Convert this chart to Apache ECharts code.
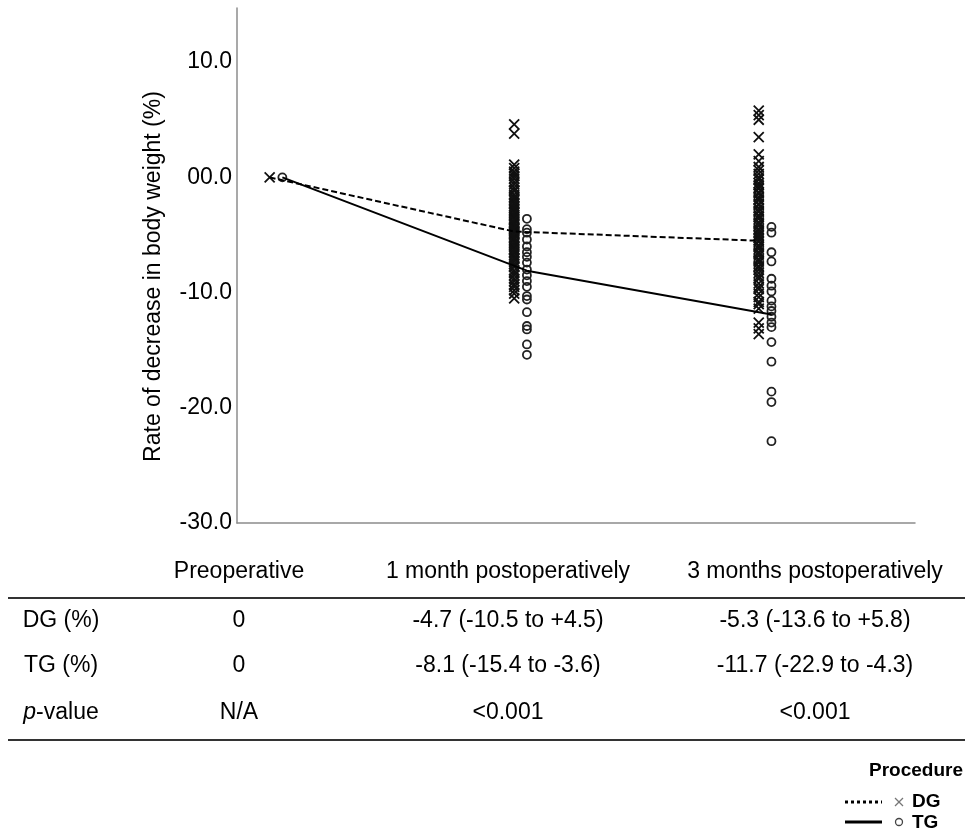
<!DOCTYPE html>
<html>
<head>
<meta charset="utf-8">
<script src="https://cdn.jsdelivr.net/npm/echarts@6/dist/echarts.min.js"></script>
<style>
  html, body { margin: 0; padding: 0; background: #fff; }
  #main { width: 965px; height: 833px; }
</style>
</head>
<body>
<div id="main"></div>
<script>
// time points (x positions 0, 1, 2)
const timePoints = ['Preoperative', '1 month postoperatively', '3 months postoperatively'];

// group medians drawn as lines
const dgLine = [0, -4.7, -5.5];
const tgLine = [0, -8.1, -11.9];

// individual patients, % change in body weight
const dgPre = [0];
const dg1m = [4.6, 3.8, 1.1, 0.8, 0.5, 0.3, 0.1, -0.1, -0.4, -0.6, -0.9, -1.1, -1.2, -1.5, -1.7, -1.8, -2.0,
  -2.2, -2.3, -2.5, -2.7, -2.8, -3.0, -3.1, -3.3, -3.4, -3.6, -3.7, -3.9, -4.0, -4.1, -4.3, -4.4, -4.5,
  -4.6, -4.7, -4.8, -4.9, -5.0, -5.2, -5.3, -5.4, -5.6, -5.7, -5.9, -6.0, -6.2, -6.3, -6.5, -6.6, -6.8,
  -7.0, -7.1, -7.3, -7.5, -7.7, -7.8, -8.1, -8.3, -8.5, -8.8, -9.0, -9.3, -9.5, -9.8, -10.1, -10.5];
const dg3m = [5.8, 5.4, 5.0, 3.5, 2.0, 1.4, 0.9, 0.6, 0.3, 0.0, -0.2, -0.5, -0.7, -0.9, -1.0, -1.3, -1.4,
  -1.7, -1.9, -2.0, -2.3, -2.4, -2.7, -2.9, -3.0, -3.3, -3.4, -3.6, -3.9, -4.0, -4.2, -4.5, -4.6, -4.8,
  -5.0, -5.1, -5.3, -5.5, -5.6, -5.9, -6.0, -6.2, -6.5, -6.6, -6.8, -7.1, -7.2, -7.4, -7.7, -7.8, -8.0,
  -8.3, -8.6, -8.8, -9.2, -9.5, -9.7, -10.1, -10.4, -10.8, -11.0, -11.4, -12.6, -13.1, -13.6];
const tgPre = [0];
const tg1m = [-3.6, -4.5, -4.8, -5.4, -6.0, -6.5, -6.9, -7.4, -8.0, -8.5, -9.0, -9.5, -10.3, -10.6,
  -11.7, -12.9, -13.2, -14.5, -15.4];
const tg3m = [-4.3, -4.8, -6.5, -7.3, -8.8, -9.4, -9.9, -10.7, -11.2, -11.6, -12.1, -12.6, -13.0,
  -14.3, -16.0, -18.6, -19.5, -22.9];

// summary table under the chart
const tableHeader = ['Preoperative', '1 month postoperatively', '3 months postoperatively'];
const tableRowNames = ['DG (%)', 'TG (%)', '{i|p}-value'];
const tableRows = [
  ['0', '-4.7 (-10.5 to +4.5)', '-5.3 (-13.6 to +5.8)'],
  ['0', '-8.1 (-15.4 to -3.6)', '-11.7 (-22.9 to -4.3)'],
  ['N/A', '<0.001', '<0.001']
];

const FONT = '"Liberation Sans", Arial, sans-serif';
const shift = 0.026;
const crossPath = 'path://M0,0L10,10M10,0L0,10';

const toPts = (lists, off) => {
  let out = [];
  lists.forEach((list, i) => list.forEach(v => out.push([i + off, v])));
  return out;
};

const chart = echarts.init(document.getElementById('main'));

const colX = [239, 508, 815];
const rowY = [621, 666, 713];
let graphics = [];
tableHeader.forEach((t, i) => {
  graphics.push({type: 'text', x: colX[i], y: 572,
    style: {text: t, font: '23px ' + FONT, fill: '#000', textAlign: 'center', textVerticalAlign: 'middle'}});
});
tableRows.forEach((row, r) => {
  graphics.push({type: 'text', x: 61, y: rowY[r],
    style: {text: tableRowNames[r], font: '23px ' + FONT, fill: '#000', textAlign: 'center', textVerticalAlign: 'middle',
      rich: {i: {fontStyle: 'italic', fontSize: 23, fontFamily: FONT}}}});
  row.forEach((t, i) => {
    graphics.push({type: 'text', x: colX[i], y: rowY[r],
      style: {text: t, font: '23px ' + FONT, fill: '#000', textAlign: 'center', textVerticalAlign: 'middle'}});
  });
});
graphics.push({type: 'line', shape: {x1: 8, y1: 598, x2: 965, y2: 598}, style: {stroke: '#333', lineWidth: 2}});
graphics.push({type: 'line', shape: {x1: 8, y1: 740, x2: 965, y2: 740}, style: {stroke: '#333', lineWidth: 2}});

// legend block
graphics.push({type: 'text', x: 963, y: 771,
  style: {text: 'Procedure', font: 'bold 19px ' + FONT, fill: '#000', textAlign: 'right', textVerticalAlign: 'middle'}});
graphics.push({type: 'line', shape: {x1: 845, y1: 802, x2: 882, y2: 802}, style: {stroke: '#000', lineWidth: 3, lineDash: [3, 3]}});
graphics.push({type: 'line', shape: {x1: 845, y1: 822, x2: 882, y2: 822}, style: {stroke: '#000', lineWidth: 3}});
graphics.push({type: 'line', shape: {x1: 895, y1: 798, x2: 903, y2: 806}, style: {stroke: '#777', lineWidth: 1.3}});
graphics.push({type: 'line', shape: {x1: 903, y1: 798, x2: 895, y2: 806}, style: {stroke: '#777', lineWidth: 1.3}});
graphics.push({type: 'circle', shape: {cx: 899, cy: 822, r: 3.5}, style: {fill: 'none', stroke: '#444', lineWidth: 1.3}});
graphics.push({type: 'text', x: 912, y: 802,
  style: {text: 'DG', font: 'bold 19px ' + FONT, fill: '#000', textAlign: 'left', textVerticalAlign: 'middle'}});
graphics.push({type: 'text', x: 912, y: 823,
  style: {text: 'TG', font: 'bold 19px ' + FONT, fill: '#000', textAlign: 'left', textVerticalAlign: 'middle'}});

chart.setOption({
  animation: false,
  backgroundColor: '#fff',
  grid: {left: 237, right: 50, top: 8, bottom: 310},
  xAxis: {
    type: 'value',
    min: -0.1595,
    max: 2.613,
    axisLine: {onZero: false, lineStyle: {color: '#8c8c8c', width: 1.5}},
    axisTick: {show: false},
    axisLabel: {show: false},
    splitLine: {show: false}
  },
  yAxis: {
    type: 'value',
    min: -30,
    max: 14.7,
    interval: 10,
    name: 'Rate of decrease in body weight (%)',
    nameLocation: 'middle',
    nameGap: 72,
    nameTextStyle: {fontFamily: FONT, fontSize: 23, color: '#000', padding: [0, 22, 0, 0]},
    axisLine: {show: true, onZero: false, lineStyle: {color: '#8c8c8c', width: 1.5}},
    axisTick: {show: false},
    splitLine: {show: false},
    axisLabel: {
      fontFamily: FONT, fontSize: 23, color: '#000', margin: 5,
      showMaxLabel: false,
      formatter: v => (v % 10 !== 0 ? '' : (v === 0 ? '00.0' : v.toFixed(1)))
    }
  },
  series: [
    {
      type: 'scatter', name: 'DG',
      symbol: crossPath, symbolSize: 10,
      itemStyle: {color: 'none', borderColor: '#111', borderWidth: 1.8, opacity: 1},
      data: toPts([dgPre, dg1m, dg3m], -shift), z: 2
    },
    {
      type: 'scatter', name: 'TG',
      symbol: 'circle', symbolSize: 8,
      itemStyle: {color: 'none', borderColor: '#222', borderWidth: 1.8, opacity: 1},
      data: toPts([tgPre, tg1m, tg3m], shift), z: 2
    },
    {
      type: 'line', name: 'DG median', symbol: 'none',
      lineStyle: {color: '#000', width: 2, type: [6, 3]},
      data: dgLine.map((v, i) => [i - shift, v]), z: 3
    },
    {
      type: 'line', name: 'TG median', symbol: 'none',
      lineStyle: {color: '#000', width: 2},
      data: tgLine.map((v, i) => [i + shift, v]), z: 3
    }
  ],
  graphic: graphics
});
</script>
</body>
</html>
